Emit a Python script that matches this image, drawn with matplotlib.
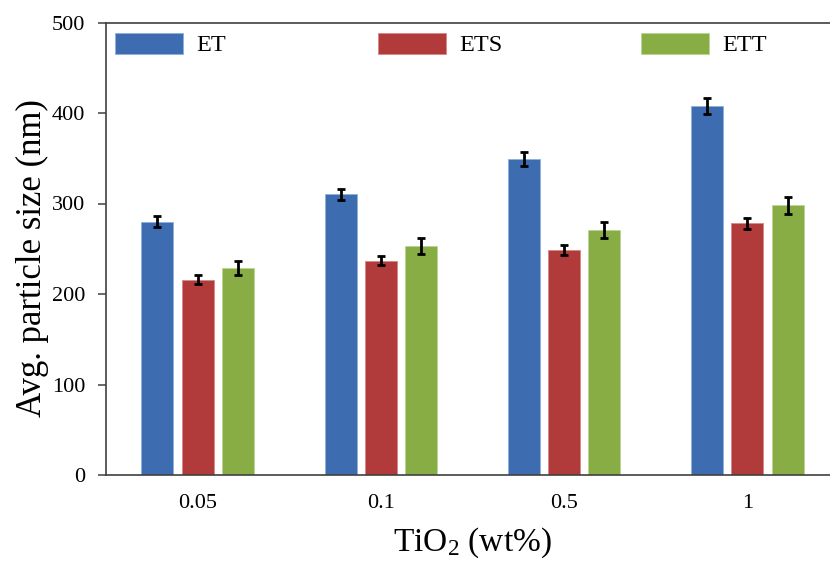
import matplotlib
matplotlib.use("Agg")
import matplotlib.pyplot as plt
import numpy as np
from matplotlib.patches import Patch

categories = ["0.05", "0.1", "0.5", "1"]
series_names = ["ET", "ETS", "ETT"]
et_vals = [280, 310, 349, 408]
ets_vals = [216, 237, 249, 278]
ett_vals = [229, 253, 271, 298]
et_err = [6.5, 6.5, 8, 9]
ets_err = [5, 5, 5.5, 6]
ett_err = [7.5, 8.5, 9, 9.5]
yticks = [0, 100, 200, 300, 400, 500]

colors = ["#3D6CB0", "#B13A3A", "#89AD45"]
edges = ["#8FB0DC", "#D98A88", "#BCD596"]

plt.rcParams["font.family"] = ["Liberation Serif", "DejaVu Serif"]
plt.rcParams["mathtext.fontset"] = "custom"
plt.rcParams["mathtext.rm"] = "Liberation Serif"
plt.rcParams["mathtext.it"] = "Liberation Serif:italic"

fig = plt.figure(figsize=(8.30, 5.62), dpi=100)
ax = fig.add_axes([106/830, 1-475/562, (839-106)/830, (475-22.5)/562])

x = np.arange(len(categories))
w = 0.175
off = 0.22
vals = [et_vals, ets_vals, ett_vals]
errs = [et_err, ets_err, ett_err]
for i in range(3):
    ax.bar(x + (i-1)*off, vals[i], width=w, color=colors[i], edgecolor=edges[i],
           linewidth=0.7, zorder=2)
    ax.errorbar(x + (i-1)*off, vals[i], yerr=errs[i], fmt="none", ecolor="black",
                elinewidth=2, capsize=2.6, capthick=2, zorder=3)

ax.set_xlim(-0.5, 3.5)
ax.set_ylim(0, 500)
ax.set_yticks(yticks)
ax.set_xticks(x)
ax.set_xticklabels(categories)
ax.tick_params(axis="x", length=0, pad=14, labelsize=16)
ax.tick_params(axis="y", length=6, width=1.1, pad=9, labelsize=16, color="#404040")
for s in ["left", "top", "bottom"]:
    ax.spines[s].set_color("#404040")
    ax.spines[s].set_linewidth(1.2)
ax.spines["right"].set_visible(False)

ax.set_xlabel(r"TiO$_2$ (wt%)", fontsize=24)
ax.set_ylabel("Avg. particle size (nm)", fontsize=25)
ax.yaxis.set_label_coords(-0.078, 0.48)
ax.xaxis.set_label_coords(0.5, -0.112)

# legend: three entries at fixed positions across the top
lefts = [115, 378, 641]
for i in range(3):
    h = Patch(facecolor=colors[i], edgecolor=edges[i], linewidth=0.7)
    leg = fig.legend([h], [series_names[i]], loc="center left",
                     bbox_to_anchor=(lefts[i]/830, 1-44.5/562),
                     frameon=False, fontsize=17.5, handlelength=2.8,
                     handleheight=0.95, handletextpad=0.55, borderpad=0,
                     borderaxespad=0)

fig.savefig("out.png", dpi=100)
